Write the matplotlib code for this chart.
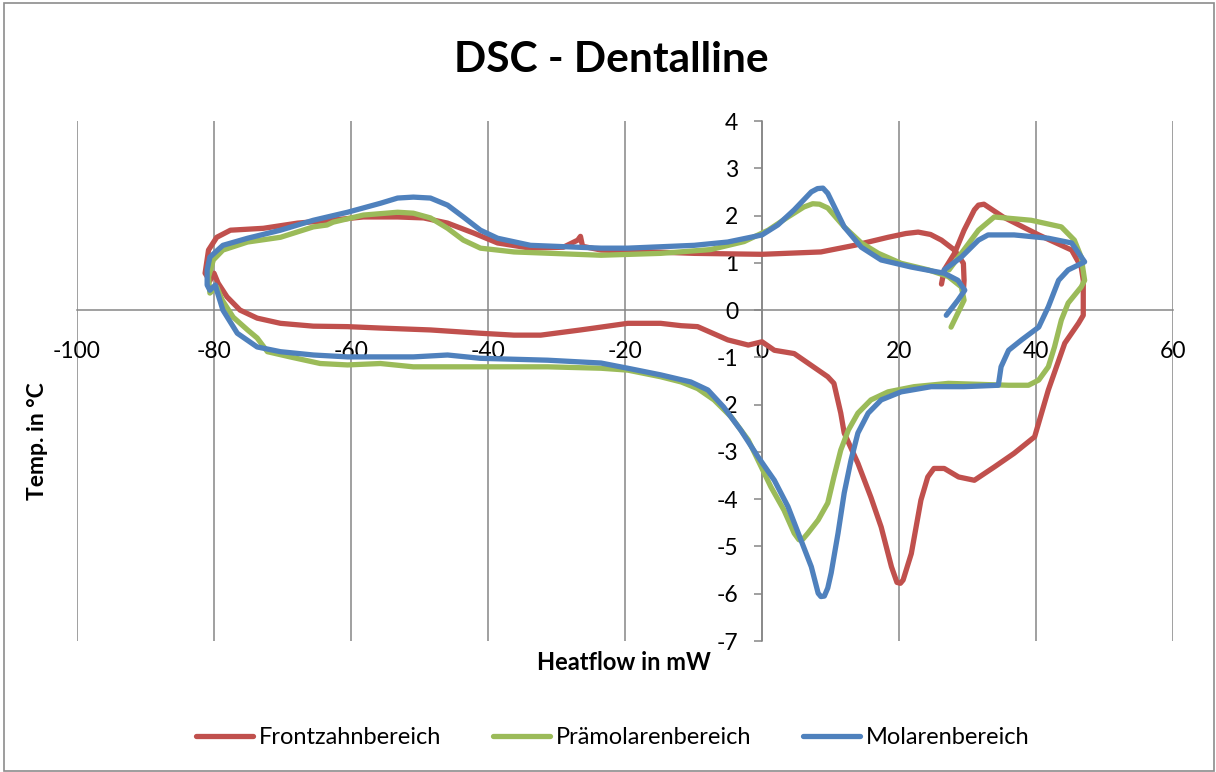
import matplotlib.pyplot as plt
from matplotlib.patches import Rectangle

plt.rcParams['font.family'] = ['Lato', 'DejaVu Sans']
plt.rcParams['axes.unicode_minus'] = False

# Frontzahnbereich (red)
front_x = [26.2, 26.6, 28.1, 29.5, 31.0, 31.6, 32.4, 35.2, 40.4, 45.2, 46.6, 46.9, 46.9, 46.2, 44.2,
           41.8, 39.8, 36.8, 33.9, 31.0, 28.7, 26.6, 25.1, 24.2, 23.2, 21.8, 20.6, 20.2, 19.7, 18.9,
           17.4, 15.9, 14.0, 12.0, 11.5, 10.5, 9.6, 4.7, 1.8, 0.0, -2.0, -5.0, -9.4, -11.8,
           -14.8, -19.6, -24.5, -26.5, -32.3, -36.2, -41.1, -48.4, -55.7, -60.5, -65.5, -70.3,
           -73.7, -76.2, -78.1, -79.4, -80.0, -80.6, -81.3, -80.8, -79.6, -77.6, -72.8, -67.8,
           -63.0, -58.2, -53.2, -49.4, -45.9, -42.1, -38.6, -33.8, -29.0, -26.9, -26.5, -26.2,
           -23.5, -9.9, 0.0, 8.6, 13.5, 18.4, 21.0, 22.8, 24.6, 26.2, 28.1, 29.4, 29.5, 29.4]
front_y = [0.55, 0.85, 1.20, 1.69, 2.12, 2.22, 2.24, 1.97, 1.59, 1.27, 0.91, 0.63, -0.11, -0.28, -0.70,
           -1.69, -2.68, -3.03, -3.32, -3.60, -3.53, -3.35, -3.35, -3.53, -4.02, -5.15, -5.71, -5.78, -5.76, -5.43,
           -4.59, -3.96, -3.24, -2.60, -2.18, -1.55, -1.41, -0.92, -0.85, -0.67, -0.74, -0.63, -0.35, -0.33,
           -0.28, -0.28, -0.38, -0.42, -0.53, -0.53, -0.49, -0.42, -0.38, -0.35, -0.34, -0.28,
           -0.17, 0.00, 0.28, 0.57, 0.78, 0.62, 0.78, 1.27, 1.54, 1.69, 1.73, 1.84,
           1.90, 1.97, 1.97, 1.95, 1.84, 1.63, 1.42, 1.31, 1.33, 1.48, 1.56, 1.35,
           1.27, 1.20, 1.18, 1.23, 1.37, 1.54, 1.62, 1.65, 1.60, 1.48, 1.27, 0.99, 0.63, 0.40]

# Prämolarenbereich (green)
prae_x = [27.3, 29.1, 31.6, 33.9, 39.3, 43.7, 45.6, 46.6, 47.1, 46.6, 44.7, 43.7, 42.7, 41.8,
          40.4, 38.9, 36.0, 27.2, 22.2, 18.4, 15.9, 14.0, 12.6, 11.5, 10.5, 9.6, 8.2, 6.7, 6.0, 5.4,
          4.7, 3.2, 1.3, -0.1, -2.0, -4.5, -7.0, -9.4, -11.8, -14.8, -19.6, -23.5, -31.3, -41.1,
          -50.9, -55.7, -60.5, -64.5, -68.9, -72.2, -73.7, -75.1, -77.2, -78.8, -79.6, -80.6,
          -80.8, -80.1, -78.7, -75.1, -70.3, -65.5, -63.5, -62.6, -58.2, -53.2, -50.9, -48.4,
          -45.9, -43.6, -41.1, -36.2, -23.5, -14.8, -7.5, -2.6, 0.9, 3.8, 6.1, 7.4, 8.4, 9.6, 12.0,
          14.5, 17.0, 20.3, 24.3, 27.2, 29.1, 29.5, 27.6]
prae_y = [0.85, 1.20, 1.69, 1.97, 1.90, 1.76, 1.48, 1.12, 0.63, 0.49, 0.15, -0.21, -0.78, -1.20,
          -1.48, -1.59, -1.59, -1.55, -1.62, -1.73, -1.90, -2.18, -2.54, -2.96, -3.53, -4.08, -4.44, -4.72, -4.84, -4.86,
          -4.72, -4.23, -3.74, -3.32, -2.75, -2.26, -1.90, -1.66, -1.52, -1.41, -1.27, -1.23, -1.20, -1.20,
          -1.20, -1.13, -1.16, -1.13, -0.99, -0.88, -0.59, -0.42, -0.15, 0.21, 0.49, 0.36,
          0.70, 1.06, 1.27, 1.44, 1.54, 1.76, 1.80, 1.86, 2.01, 2.07, 2.05, 1.95,
          1.73, 1.48, 1.31, 1.23, 1.16, 1.20, 1.28, 1.45, 1.69, 1.97, 2.18, 2.25, 2.24, 2.16, 1.76,
          1.42, 1.20, 0.99, 0.85, 0.71, 0.49, 0.21, -0.36]

# Molarenbereich (blue)
molar_x = [26.6, 29.1, 31.6, 33.0, 36.8, 41.8, 45.2, 47.1, 44.7, 43.3, 41.8, 40.4, 37.9, 36.0,
           34.9, 34.5, 29.5, 24.7, 20.3, 17.4, 15.5, 14.0, 13.0, 12.0, 11.1, 10.1, 9.6, 9.1, 8.6, 8.2, 7.2,
           5.7, 3.8, 1.8, -0.6, -3.1, -5.6, -7.9, -10.4, -14.8, -19.6, -23.5, -31.3, -41.1, -45.9,
           -50.9, -60.5, -65.5, -70.3, -73.7, -76.6, -78.7, -79.6, -79.8, -80.6, -81.0, -81.0,
           -80.6, -78.7, -75.1, -70.3, -65.5, -60.5, -55.7, -53.2, -50.9, -48.4, -45.9, -43.6,
           -41.1, -38.6, -33.8, -23.5, -19.6, -9.9, -5.0, 0.0, 2.3, 4.7, 7.2, 8.1, 8.9, 9.6, 12.0,
           14.5, 17.4, 21.8, 26.6, 28.6, 29.6, 28.6, 26.9]
molar_y = [0.85, 1.12, 1.48, 1.59, 1.59, 1.52, 1.42, 1.02, 0.85, 0.63, 0.07, -0.36, -0.63, -0.85,
           -1.20, -1.59, -1.62, -1.62, -1.73, -1.90, -2.18, -2.60, -3.17, -3.87, -4.72, -5.56, -5.88, -6.05, -6.06, -5.99, -5.43,
           -4.87, -4.16, -3.60, -3.10, -2.54, -2.05, -1.69, -1.52, -1.37, -1.23, -1.12, -1.06, -1.02, -0.95,
           -0.99, -0.99, -0.95, -0.88, -0.78, -0.49, 0.00, 0.42, 0.53, 0.42, 0.53, 0.85,
           1.12, 1.37, 1.52, 1.69, 1.90, 2.07, 2.26, 2.37, 2.39, 2.37, 2.22, 1.97,
           1.69, 1.52, 1.37, 1.31, 1.31, 1.37, 1.44, 1.59, 1.80, 2.12, 2.50, 2.57, 2.58, 2.47, 1.76,
           1.33, 1.06, 0.91, 0.78, 0.63, 0.42, 0.21, -0.11]

names = ['Frontzahnbereich', 'Prämolarenbereich', 'Molarenbereich']
colors = ['#C0504D', '#9BBB59', '#4F81BD']
x_ticks = [-100, -80, -60, -40, -20, 0, 20, 40, 60]
y_ticks = [4, 3, 2, 1, 0, -1, -2, -3, -4, -5, -6, -7]

fig = plt.figure(figsize=(12.16, 7.72), dpi=100)
fig.patches.append(Rectangle((4 / 1216, 0.001), 1210 / 1216, 0.995, transform=fig.transFigure,
                             fill=False, edgecolor='#8c8c8c', lw=1.2))

ax = fig.add_axes([77 / 1216, 1 - 641 / 772, 1096 / 1216, 520 / 772])

for xs, ys, c, n in zip([front_x, prae_x, molar_x], [front_y, prae_y, molar_y], colors, names):
    ax.plot(xs, ys, color=c, lw=3.8, label=n, solid_joinstyle='round', solid_capstyle='round')

ax.set_xlim(-100, 60)
ax.set_ylim(-7, 4)
ax.set_xticks(x_ticks)
ax.set_yticks(y_ticks)
ax.grid(axis='x', color='#868686', lw=1.1)
ax.set_axisbelow(True)

for s in ['top', 'right']:
    ax.spines[s].set_visible(False)
ax.spines['left'].set_position(('data', 0))
ax.spines['bottom'].set_position(('data', 0))
for s in ['left', 'bottom']:
    ax.spines[s].set_color('#868686')
    ax.spines[s].set_linewidth(1.1)
    ax.spines[s].set_zorder(0.5)

ax.tick_params(axis='x', length=0, pad=22, labelsize=16.5)
ax.tick_params(axis='y', length=6, width=1.1, color='#868686', pad=11, labelsize=16.5)

fig.text(611 / 1216, 1 - 60 / 772, 'DSC - Dentalline', ha='center', va='center',
         fontsize=30.5, fontweight='bold')
fig.text(624 / 1216, 1 - 663 / 772, 'Heatflow in mW', ha='center', va='center',
         fontsize=17, fontweight='bold')
fig.text(37 / 1216, 1 - 441 / 772, 'Temp. in °C', ha='center', va='center',
         fontsize=16.5, fontweight='bold', rotation=90)

fig.legend(loc='center', bbox_to_anchor=(613 / 1216, 1 - 738 / 772), ncol=3, frameon=False,
           fontsize=17, handlelength=2.4, handletextpad=0.25, columnspacing=2.2)

fig.savefig('out.png', dpi=100)
